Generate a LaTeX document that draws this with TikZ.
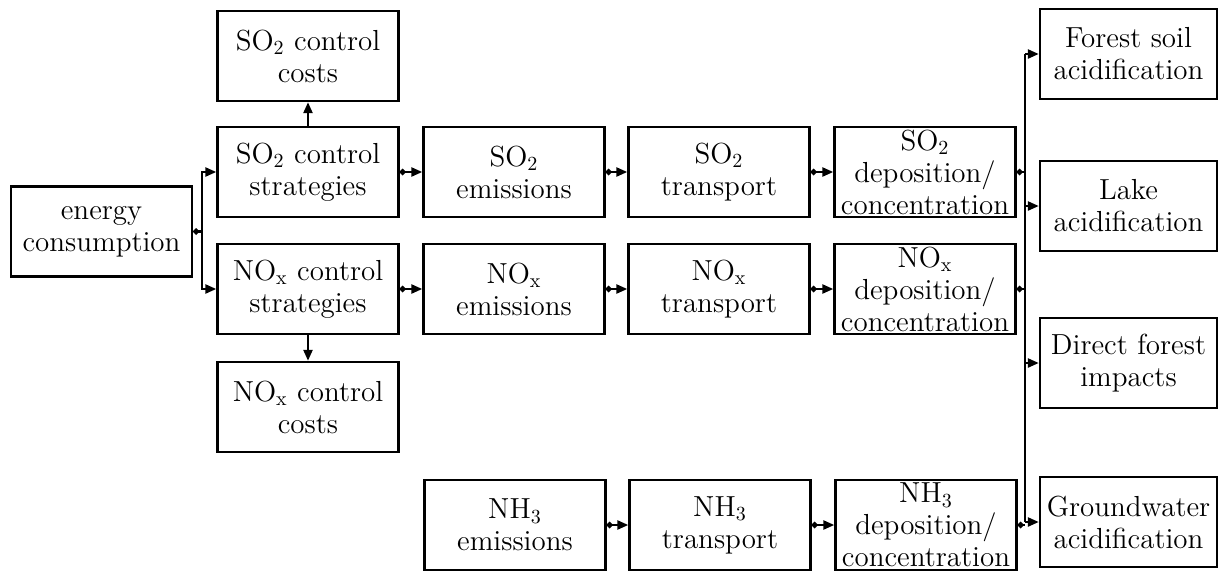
\documentclass[tikz,border=0pt]{standalone}
\usepackage{tikz}
\usetikzlibrary{positioning, arrows.meta}

\begin{document}
\begin{tikzpicture}[
    x=0.5pt, y=-0.5pt,
    font=\fontsize{14.5}{16}\selectfont,
    block/.style={rectangle, draw=black, line width=1.2pt, minimum width=90.5pt, minimum height=45pt, align=center, inner sep=2pt},
    depo/.style={block, inner ysep=0pt},
    outcome/.style={block, minimum width=88.5pt},
    flow/.style={draw, line width=1.2pt, {Circle[length=3pt]}-{Triangle[length=5.5pt, width=4.5pt]}},
    feed/.style={draw, line width=1.2pt, {Circle[length=3pt]}-},
    tap/.style={draw, line width=1.2pt, -{Triangle[length=5.5pt, width=4.5pt]}}
]
\useasboundingbox (0,0) rectangle (1222,574);

% boxes
\node[block] (energy) at (101.5,231.5) {energy\\consumption};

\node[block] (so2cost) at (308,56) {SO$_2$ control\\costs};
\node[block] (so2strat) at (308,172) {SO$_2$ control\\strategies};
\node[block] (noxstrat) at (308,289) {NO$_\mathrm{x}$ control\\strategies};
\node[block] (noxcost) at (308,407) {NO$_\mathrm{x}$ control\\costs};

\node[block] (so2emis) at (514,172) {SO$_2$\\emissions};
\node[block] (noxemis) at (514,289) {NO$_\mathrm{x}$\\emissions};
\node[block] (nh3emis) at (515,525) {NH$_3$\\emissions};

\node[block] (so2trans) at (719,172) {SO$_2$\\transport};
\node[block] (noxtrans) at (719,289) {NO$_\mathrm{x}$\\transport};
\node[block] (nh3trans) at (720,525) {NH$_3$\\transport};

\node[depo] (so2dep) at (925,172) {SO$_2$\\deposition/\\concentration};
\node[depo] (noxdep) at (925,289) {NO$_\mathrm{x}$\\deposition/\\concentration};
\node[depo] (nh3dep) at (926,525) {NH$_3$\\deposition/\\concentration};

\node[outcome] (forest) at (1128.5,54) {Forest soil\\acidification};
\node[outcome] (lake) at (1128.5,206) {Lake\\acidification};
\node[outcome] (direct) at (1128.5,363) {Direct forest\\impacts};
\node[outcome] (ground) at (1128.5,522) {Groundwater\\acidification};

% connections
\coordinate (split) at (202,231.5);
\draw[feed] (energy.east) -- (split);
\draw[tap] (split) |- (so2strat.west);
\draw[tap] (split) |- (noxstrat.west);

\draw[tap] (so2strat.north) -- (so2cost.south);
\draw[tap] (noxstrat.south) -- (noxcost.north);

\foreach \a/\b in {so2strat/so2emis, so2emis/so2trans, so2trans/so2dep,
                   noxstrat/noxemis, noxemis/noxtrans, noxtrans/noxdep,
                   nh3emis/nh3trans, nh3trans/nh3dep}
    \draw[flow] (\a.east) -- (\b.west);

\coordinate (bus) at (1025,0);
\draw[line width=1.2pt] (bus |- forest.west) -- (bus |- ground.west);
\foreach \d in {so2dep, noxdep, nh3dep}
    \draw[feed] (\d.east) -- (\d.east -| bus);
\foreach \o in {forest, lake, direct, ground}
    \draw[tap] (\o.west -| bus) -- (\o.west);

\end{tikzpicture}
\end{document}
